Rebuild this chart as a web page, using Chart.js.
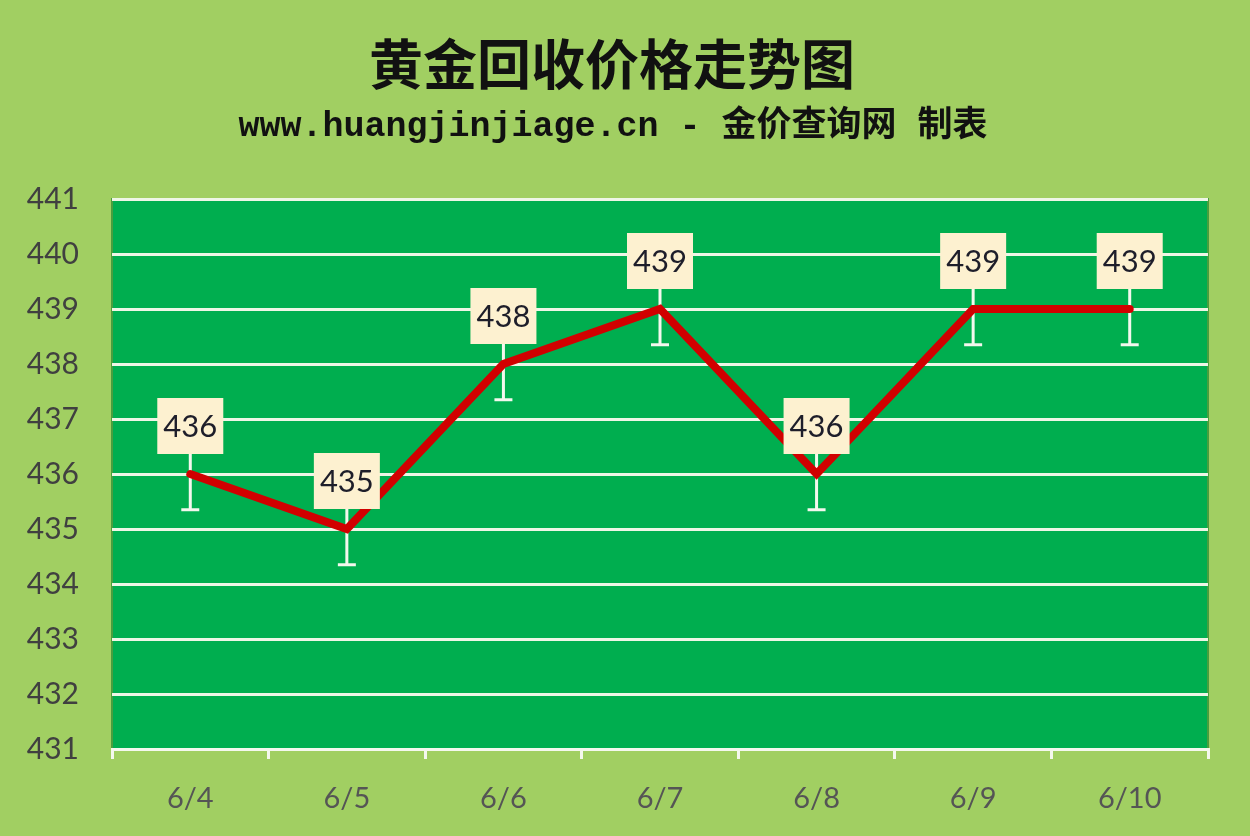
<!DOCTYPE html>
<html>
<head>
<meta charset="utf-8">
<script src="https://cdn.jsdelivr.net/npm/chart.js@4.4.0/dist/chart.umd.min.js"></script>
<style>
html,body{margin:0;padding:0;background:#a1cf62;}
#wrap{width:1250px;height:836px;position:relative;}
</style>
</head>
<body>
<div id="wrap"><canvas id="c" width="1250" height="836"></canvas></div>
<script>
const titleText = "黄金回收价格走势图";
const subtitleText = "www.huangjinjiage.cn - 金价查询网 制表";
const categories = ["6/4","6/5","6/6","6/7","6/8","6/9","6/10"];
const prices = [436,435,438,439,436,439,439];
const errorAmount = 0.65;
const yMin = 431, yMax = 441, yStep = 1;

const bgPlugin = {
  id:'bg',
  beforeDraw(chart){
    const {ctx, chartArea:a} = chart;
    ctx.save();
    ctx.fillStyle = '#a1cf62';
    ctx.fillRect(0,0,chart.width,chart.height);
    ctx.fillStyle = '#00ae4f';
    ctx.fillRect(a.left,a.top,a.right-a.left,a.bottom-a.top);
    ctx.strokeStyle = '#4a9e3e';
    ctx.lineWidth = 2;
    ctx.strokeRect(a.left,a.top,a.right-a.left,a.bottom-a.top);
    ctx.restore();
  },
  afterDraw(chart){
    const ctx = chart.ctx;
    ctx.save();
    ctx.fillStyle = '#111';
    ctx.textAlign = 'center';
    ctx.textBaseline = 'middle';
    ctx.font = 'bold 54px "Noto Sans CJK SC"';
    ctx.fillText(titleText, 612, 64);
    ctx.font = 'bold 35px "Liberation Mono", "Noto Sans CJK SC"';
    ctx.fillText(subtitleText, 613, 127);
    ctx.restore();
  }
};

const errPlugin = {
  id:'err',
  beforeDatasetsDraw(chart){
    const ctx = chart.ctx, y = chart.scales.y;
    const meta = chart.getDatasetMeta(0);
    ctx.save();
    ctx.strokeStyle = '#f4f8ee';
    ctx.lineWidth = 3;
    meta.data.forEach((pt,i)=>{
      const v = prices[i];
      const y1 = y.getPixelForValue(v - errorAmount);
      const y2 = y.getPixelForValue(v + errorAmount);
      ctx.beginPath();
      ctx.moveTo(pt.x, y1); ctx.lineTo(pt.x, y2);
      ctx.moveTo(pt.x-9, y1); ctx.lineTo(pt.x+9, y1);
      ctx.moveTo(pt.x-9, y2); ctx.lineTo(pt.x+9, y2);
      ctx.stroke();
    });
    ctx.restore();
  },
  afterDatasetsDraw(chart){
    const ctx = chart.ctx;
    const meta = chart.getDatasetMeta(0);
    ctx.save();
    meta.data.forEach((pt,i)=>{
      const w = 66, h = 56;
      const bx = pt.x - w/2, by = pt.y - 20 - h;
      ctx.fillStyle = '#fdf1d0';
      ctx.fillRect(bx, by, w, h);
      ctx.fillStyle = '#1e1e2a';
      ctx.font = '31px Lato';
      ctx.textAlign = 'center';
      ctx.textBaseline = 'middle';
      ctx.fillText(String(prices[i]), pt.x, by + h/2 + 1);
    });
    ctx.restore();
  }
};

new Chart(document.getElementById('c'), {
  type:'line',
  data:{
    labels: categories,
    datasets:[{
      data: prices,
      borderColor:'#d10000',
      borderWidth:8,
      pointRadius:0,
      borderCapStyle:'round',
      borderJoinStyle:'miter',
      tension:0
    }]
  },
  options:{
    responsive:false,
    animation:false,
    devicePixelRatio:1,
    layout:{padding:{left:0,right:42,top:199,bottom:18}},
    plugins:{legend:{display:false},tooltip:{enabled:false},title:{display:false}},
    scales:{
      x:{
        offset:true,
        grid:{offset:true, drawOnChartArea:false, drawTicks:true, tickLength:10, color:'#f4f8ee', lineWidth:3},
        border:{display:true, color:'#f4f8ee', width:3},
        ticks:{font:{family:'Lato', size:29}, color:'#555555', padding:22},
        afterFit(s){ s.height = 69; }
      },
      y:{
        min:yMin, max:yMax,
        grid:{color:'#eef6e6', lineWidth:3, drawTicks:false},
        border:{display:false},
        ticks:{stepSize:yStep, font:{family:'Lato', size:30}, color:'#404040', padding:33},
        afterFit(s){ s.width = 112; }
      }
    }
  },
  plugins:[bgPlugin, errPlugin]
});
</script>
</body>
</html>
